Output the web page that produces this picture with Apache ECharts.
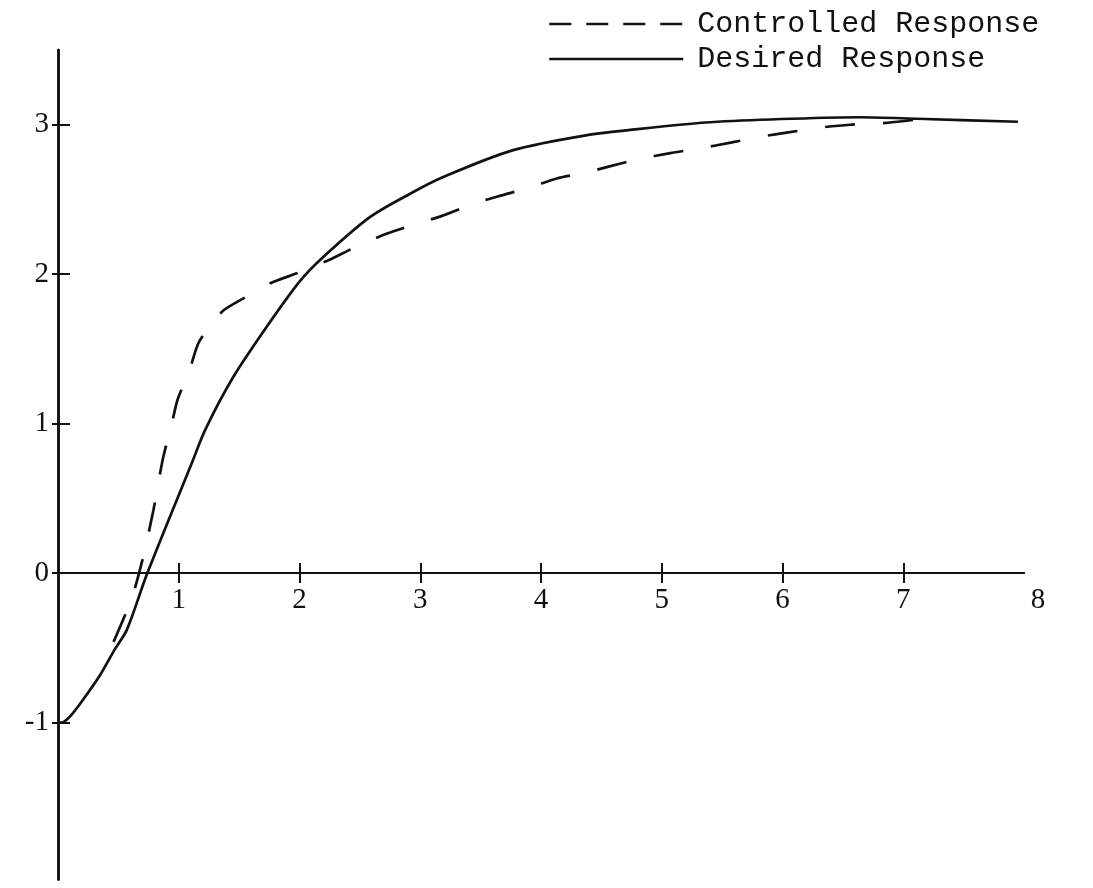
<!DOCTYPE html>
<html><head><meta charset="utf-8">
<script src="https://cdn.jsdelivr.net/npm/echarts@6/dist/echarts.min.js"></script>
<style>html,body{margin:0;padding:0;background:#fff}#c{width:1093px;height:888px}</style>
</head><body><div id="c"></div>
<script>
const seriesNames = ['Controlled Response', 'Desired Response'];
const controlled = [[0.46,-0.46],[0.61,-0.17],[0.70,0.09],[0.79,0.42],[0.87,0.77],[0.94,0.99],[0.99,1.16],[1.09,1.36],[1.17,1.55],[1.36,1.75],[1.54,1.84],[1.76,1.94],[1.99,2.01],[2.23,2.09],[2.46,2.18],[2.72,2.27],[2.94,2.33],[3.18,2.39],[3.44,2.47],[3.64,2.52],[3.91,2.58],[4.13,2.64],[4.37,2.68],[4.56,2.72],[4.81,2.77],[5.07,2.81],[5.30,2.84],[5.57,2.88],[5.82,2.92],[6.06,2.95],[6.30,2.98],[6.56,3.00],[6.83,3.01],[7.17,3.04]];
const desired = [[0,-1],[0.03,-1],[0.12,-0.94],[0.24,-0.81],[0.35,-0.68],[0.47,-0.51],[0.57,-0.38],[0.74,0],[1.11,0.74],[1.22,0.96],[1.45,1.31],[1.73,1.65],[2.0,1.95],[2.19,2.11],[2.58,2.38],[2.92,2.54],[3.19,2.65],[3.77,2.83],[4.38,2.93],[4.8,2.97],[5.15,3.0],[5.46,3.02],[6.08,3.04],[6.64,3.05],[7.12,3.04],[7.95,3.02]];
const xTickValues = [1,2,3,4,5,6,7];
const xLabelValues = [1,2,3,4,5,6,7,8];
const yTickValues = [-1,0,1,2,3];
const yLabelValues = [-1,0,1,2,3];

const ink = '#111';
const numFont = {fontFamily:'Liberation Serif', fontSize:29, color:ink};
const chart = echarts.init(document.getElementById('c'));
const xBase = {type:'value', min:0, max:8, splitLine:{show:false}};
const yBase = {type:'value', min:-2.05, max:3.5, splitLine:{show:false}};
const gridTop = 50, gridBottom = 8.5;
const plotH = 888 - gridTop - gridBottom;
const zeroPx = gridTop + plotH * 3.5 / 5.55;
chart.setOption({
  animation:false,
  backgroundColor:'#fff',
  grid:[
    {left:58, right:69, top:gridTop, bottom:gridBottom, containLabel:false, outerBoundsMode:'none'},
    {left:58, right:69, top:gridTop, bottom:888 - zeroPx, containLabel:false, outerBoundsMode:'none'}
  ],
  legend:{
    orient:'vertical', left:543, top:4, itemWidth:134, itemHeight:14, itemGap:5,
    itemStyle:{opacity:0},
    textStyle:{fontFamily:'Liberation Mono', fontSize:30, lineHeight:30, color:ink, padding:[0,0,0,9]},
    data:[
      {name:seriesNames[0], lineStyle:{type:[22,15], width:2.5, color:ink}},
      {name:seriesNames[1], lineStyle:{type:'solid', width:2.5, color:ink}}
    ]
  },
  xAxis:[
    Object.assign({}, xBase, {
      axisLine:{onZero:true, onZeroAxisIndex:0, lineStyle:{color:ink, width:2}},
      axisTick:{show:true, length:10, customValues:xTickValues, lineStyle:{color:ink, width:2}},
      axisLabel:{show:false}
    }),
    Object.assign({}, xBase, {position:'top',
      axisLine:{onZero:true, onZeroAxisIndex:0, lineStyle:{color:ink, width:2}},
      axisTick:{show:true, length:10, customValues:xTickValues, lineStyle:{color:ink, width:2}},
      axisLabel:{show:false}
    }),
    Object.assign({}, xBase, {gridIndex:1, position:'bottom',
      axisLine:{show:false, onZero:false}, axisTick:{show:false},
      axisLabel:Object.assign({show:true, margin:13, customValues:xLabelValues,
        formatter: v => v === 8 ? '{e|8}' : String(v),
        rich:{e:Object.assign({padding:[0,0,0,28]}, numFont)}}, numFont)
    })
  ],
  yAxis:[
    Object.assign({}, yBase, {
      axisLine:{onZero:true, onZeroAxisIndex:0, lineStyle:{color:ink, width:2.5}},
      axisTick:{show:true, length:6, customValues:yTickValues, lineStyle:{color:ink, width:2}},
      axisLabel:Object.assign({show:true, margin:9, customValues:yLabelValues}, numFont)
    }),
    Object.assign({}, yBase, {position:'right',
      axisLine:{onZero:true, onZeroAxisIndex:0, lineStyle:{color:ink, width:2.5}},
      axisTick:{show:true, length:12, customValues:yTickValues, lineStyle:{color:ink, width:2}},
      axisLabel:{show:false}
    }),
    {type:'value', gridIndex:1, min:0, max:1, show:false}
  ],
  series:[
    {name:seriesNames[0], type:'line', data:controlled, symbol:'none', smooth:0.25,
     itemStyle:{color:ink}, lineStyle:{type:[30,28], width:2.7, color:ink}},
    {name:seriesNames[1], type:'line', data:desired, symbol:'none', smooth:0.3,
     itemStyle:{color:ink}, lineStyle:{type:'solid', width:2.7, color:ink}}
  ]
});
</script></body></html>
